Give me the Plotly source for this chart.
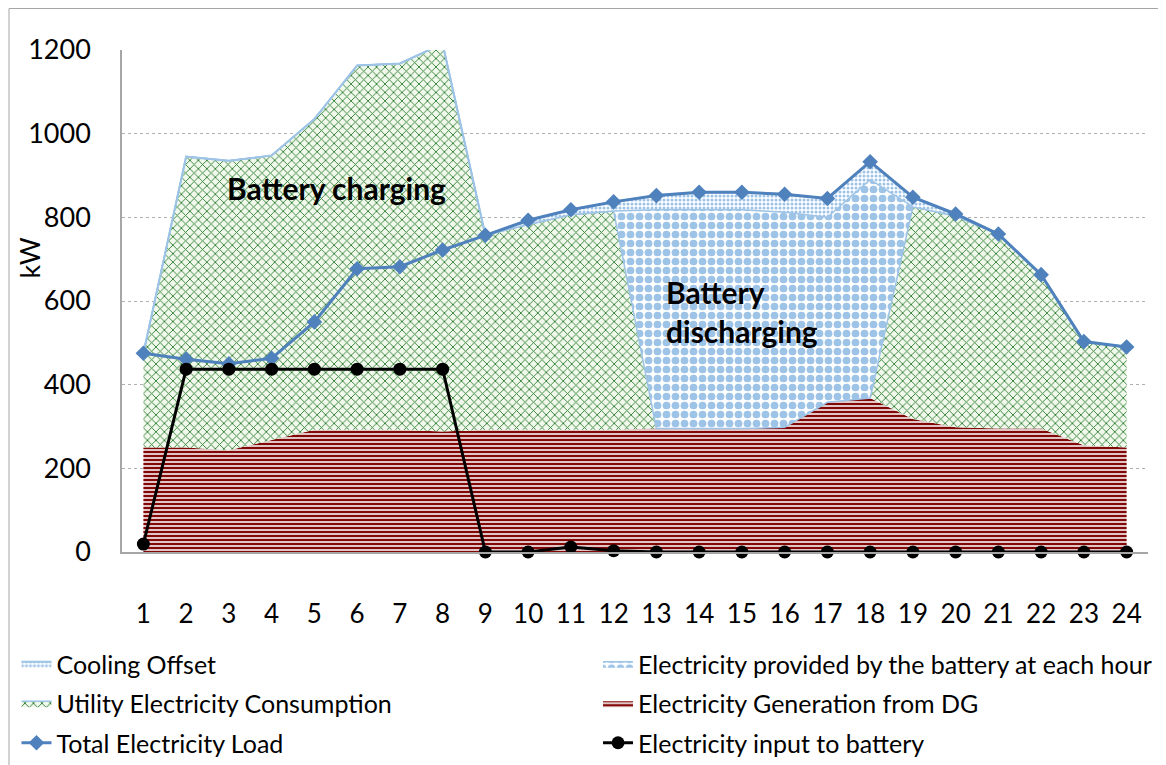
import plotly.graph_objects as go

hours = list(range(1, 25))
hour_labels = [str(h) for h in hours]

dg_generation = [250, 250, 243, 268, 292, 292, 292, 288, 292, 292, 292, 292,
                 295, 295, 295, 298, 358, 368, 318, 298, 295, 295, 255, 250]
utility_consumption = [225, 695, 692, 680, 743, 871, 876, 927, 465, 491, 514, 523,
                       0, 0, 0, 0, 0, 0, 507, 505, 465, 368, 248, 240]
battery_provided = [0, 0, 0, 0, 0, 0, 0, 0, 0, 0, 0, 0,
                    523, 523, 523, 514, 442, 522, 0, 0, 0, 0, 0, 0]
cooling_offset = [0, 0, 0, 0, 0, 0, 0, 0, 0, 10, 12, 22,
                  34, 42, 42, 43, 45, 43, 23, 5, 0, 0, 0, 0]
total_load = [475, 461, 450, 463, 550, 677, 682, 722, 757, 793, 818, 837,
              852, 860, 860, 855, 845, 933, 848, 808, 760, 663, 503, 490]
battery_input = [19, 437, 437, 437, 437, 437, 437, 437, 0, 0, 12, 3,
                 0, 0, 0, 0, 0, 0, 0, 0, 0, 0, 0, 0]

y_ticks = [0, 200, 400, 600, 800, 1000, 1200]

FONT = "Lato"
LIGHT_BLUE = "#9DC3E6"

# page offset of the figure (default body margin)
OFF = 8
# plot area in page pixels
PL, PR, PT, PB = 121.6, 1148.4, 50, 552
FIG_W, FIG_H = 1166, 765
L = PL - OFF
T = PT - OFF
R = FIG_W - (PR - OFF)
B = FIG_H - (PB - OFF)
W = PR - PL
H = PB - PT


def px_x(p):
    return (p - PL) / W


def px_y(p):
    return (PB - p) / H


fig = go.Figure()

fig.add_trace(go.Scatter(
    x=hours, y=dg_generation, name="Electricity Generation from DG",
    stackgroup="s", mode="lines", line=dict(width=0, color="#8B0000"),
    fillcolor="white",
    fillpattern=dict(shape="-", fgcolor="#820808", bgcolor="white",
                     size=4, solidity=0.62, fillmode="replace"),
    legend="legend2", legendgroup="dg", legendrank=2,
))
fig.add_trace(go.Scatter(
    x=hours, y=utility_consumption, name="Utility Electricity Consumption",
    stackgroup="s", mode="lines", line=dict(width=1.5, color=LIGHT_BLUE),
    fillcolor="#F0F9EC",
    fillpattern=dict(shape="x", fgcolor="#2F7D32", bgcolor="#F0F9EC",
                     size=6, solidity=0.28, fillmode="replace"),
    legend="legend", legendgroup="util", legendrank=2,
))
fig.add_trace(go.Scatter(
    x=hours, y=battery_provided, name="Electricity provided by the battery at each hour",
    stackgroup="s", mode="lines", line=dict(width=1.5, color=LIGHT_BLUE),
    fillcolor="white",
    fillpattern=dict(shape=".", fgcolor=LIGHT_BLUE, bgcolor="white",
                     size=9, solidity=0.58, fillmode="replace"),
    legend="legend2", legendgroup="bat", legendrank=1,
))
fig.add_trace(go.Scatter(
    x=hours, y=cooling_offset, name="Cooling Offset",
    stackgroup="s", mode="lines", line=dict(width=2, color=LIGHT_BLUE),
    fillcolor="white",
    fillpattern=dict(shape=".", fgcolor=LIGHT_BLUE, bgcolor="white",
                     size=4, solidity=0.45, fillmode="replace"),
    legend="legend", legendgroup="cool", legendrank=1,
))
fig.add_trace(go.Scatter(
    x=hours, y=total_load, name="Total Electricity Load",
    mode="lines+markers", line=dict(width=3, color="#4F81BD"),
    marker=dict(symbol="diamond", size=12, color="#4F81BD"),
    legend="legend", legendgroup="total", legendrank=3, cliponaxis=False,
))
fig.add_trace(go.Scatter(
    x=hours, y=battery_input, name="Electricity input to battery",
    mode="lines+markers", line=dict(width=3, color="black"),
    marker=dict(symbol="circle", size=13, color="black"),
    legend="legend2", legendgroup="inp", legendrank=3, cliponaxis=False,
))

fig.add_annotation(x=px_x(336), y=px_y(188), xref="paper", yref="paper",
                   xanchor="center", yanchor="middle",
                   text="<b>Battery charging</b>", showarrow=False,
                   font=dict(family=FONT, size=30, color="black"))
fig.add_annotation(x=px_x(664), y=px_y(311), xref="paper", yref="paper",
                   xanchor="left", yanchor="middle", align="left",
                   text="<b>Battery<br>discharging</b>", showarrow=False,
                   font=dict(family=FONT, size=30, color="black"))
# y-axis title
fig.add_annotation(x=px_x(30), y=px_y(258), xref="paper", yref="paper",
                   xanchor="center", yanchor="middle", textangle=-90,
                   text="kW", showarrow=False,
                   font=dict(family=FONT, size=27, color="black"))

# outer chart frame
fig.add_shape(type="rect", xref="paper", yref="paper",
              x0=px_x(8.5), x1=px_x(1190), y0=px_y(800), y1=px_y(8.5),
              line=dict(color="#A6A6A6", width=1), fillcolor="rgba(0,0,0,0)",
              layer="below")

legend_common = dict(orientation="v", traceorder="grouped", tracegroupgap=4,
                     font=dict(family=FONT, size=25, color="black"),
                     bgcolor="rgba(0,0,0,0)", xanchor="left", yanchor="top",
                     itemwidth=30)

fig.update_layout(
    width=FIG_W, height=FIG_H,
    margin=dict(l=L, r=R, t=T, b=B, autoexpand=False),
    paper_bgcolor="white", plot_bgcolor="white",
    font=dict(family=FONT, color="black"),
    showlegend=True,
    legend=dict(x=px_x(16), y=px_y(641), **legend_common),
    legend2=dict(x=px_x(598), y=px_y(641), **legend_common),
    xaxis=dict(
        range=[0.5, 24.5], tickmode="array", tickvals=hours, ticktext=hour_labels,
        showgrid=False, zeroline=False, showline=True, linecolor="#A6A6A6",
        linewidth=1.5, ticks="", ticklabelstandoff=38, automargin=False,
        tickfont=dict(family=FONT, size=26, color="black"),
    ),
    yaxis=dict(
        range=[0, 1200], tickmode="array", tickvals=y_ticks,
        showgrid=True, gridcolor="#B0B0B0", griddash="dot", gridwidth=1,
        zeroline=False, showline=True, linecolor="#A6A6A6", linewidth=1.5,
        ticks="", ticklabelstandoff=24, automargin=False,
        tickfont=dict(family=FONT, size=27, color="black"),
    ),
)

fig.write_html("out.html")
